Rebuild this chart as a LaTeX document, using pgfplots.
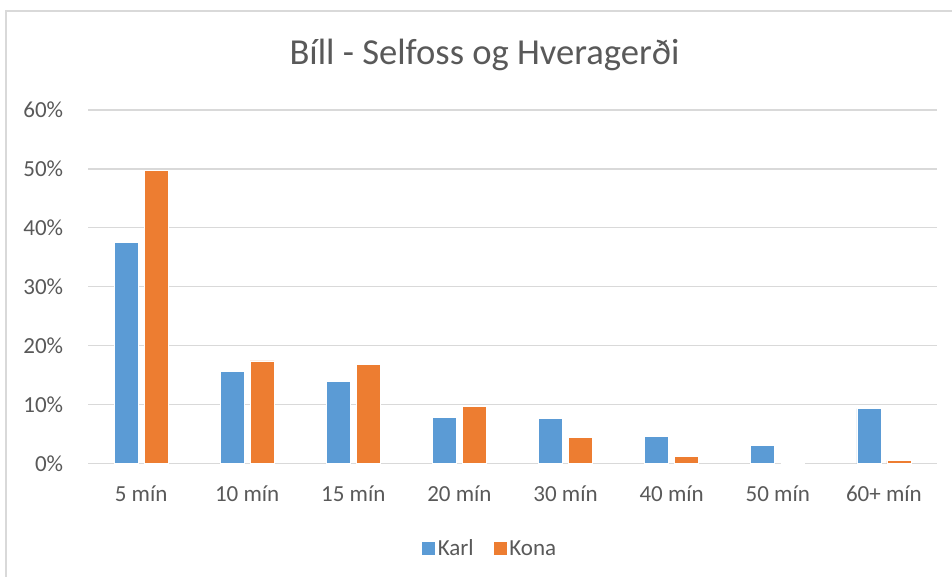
\documentclass[border=0pt]{standalone}
\usepackage{pgfplots}
\pgfplotsset{compat=1.18}
\usepackage{fontspec}
\setmainfont{Carlito}
\definecolor{karl}{HTML}{5B9BD5}
\definecolor{kona}{HTML}{ED7D31}
\definecolor{txt}{HTML}{595959}
\definecolor{grd}{HTML}{D9D9D9}
\begin{document}
\begin{tikzpicture}
\useasboundingbox (0,0) rectangle (952bp,577bp);
\fill[white] (0,0) rectangle (952bp,577bp);
\draw[grd, line width=1.3bp] (6bp,0bp) -- (6bp,566bp) -- (952bp,566bp);
\node[anchor=base, text=txt, inner sep=0pt, font=\fontsize{36.6bp}{40bp}\selectfont] at (484.5bp,512.7bp) {Bíll - Selfoss og Hveragerði};
\begin{axis}[
  at={(88bp,113.5bp)}, anchor=south west,
  scale only axis, width=849bp, height=353.5bp,
  xmin=-0.5, xmax=7.5, ymin=0, ymax=60,
  ybar, bar width=24bp,
  xtick={0,...,7},
  xticklabels={5 mín,10 mín,15 mín,20 mín,30 mín,40 mín,50 mín,60+ mín},
  ytick={0,10,...,60},
  yticklabels={0\%,10\%,20\%,30\%,40\%,50\%,60\%},
  /pgf/number format/assume math mode=true,
  axis line style={draw=none},
  major tick length=0pt,
  ymajorgrids, grid style={grd, line width=1.3bp},
  tick label style={text=txt, inner sep=0pt, font=\fontsize{23bp}{27bp}\selectfont},
  xticklabel style={anchor=base, yshift=-38.2bp},
  yticklabel style={anchor=east, xshift=-24.7bp},
  legend columns=2,
  legend style={at={(0.473,-0.2405)}, anchor=center, draw=none, fill=none,
    font=\fontsize{23bp}{27bp}\selectfont, text=txt,
    /tikz/every even column/.append style={column sep=17bp}},
  legend image code/.code={\fill[#1] (0bp,-7bp) rectangle (14bp,7bp);},
  legend cell align=left,
]
\addplot[fill=karl, draw=white, line width=0.8bp, bar shift=-15bp] coordinates {
  (0,37.5) (1,15.6) (2,14.0) (3,7.8) (4,7.7) (5,4.6) (6,3.0) (7,9.3)};
\addplot[fill=kona, draw=white, line width=0.8bp, bar shift=15bp] coordinates {
  (0,49.7) (1,17.4) (2,16.8) (3,9.7) (4,4.4) (5,1.2) (6,0) (7,0.5)};
\legend{Karl,Kona}
\end{axis}
\end{tikzpicture}
\end{document}
